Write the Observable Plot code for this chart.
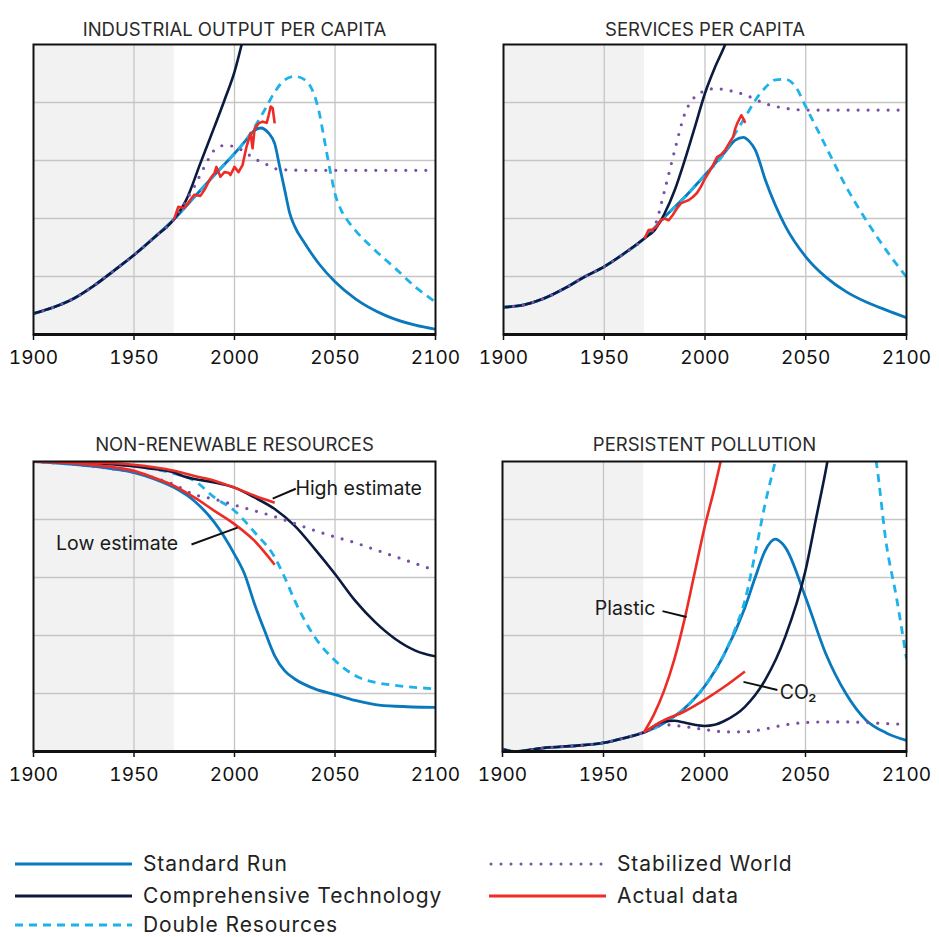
<!DOCTYPE html>
<html><head><meta charset="utf-8">
<script src="https://cdn.jsdelivr.net/npm/d3@7"></script>
<script src="https://cdn.jsdelivr.net/npm/@observablehq/plot@0.6"></script>
<style>
body{margin:0;background:#fff;font-family:Inter,"Open Sans",sans-serif;}
#root{position:relative;width:939px;height:937px;overflow:hidden;}
.panel{position:absolute;}
.leg{position:absolute;display:flex;align-items:center;height:24px;font-size:21px;letter-spacing:0.9px;color:#222;white-space:nowrap;line-height:24px;}
.leg svg{margin-right:11px;}
</style></head>
<body><div id="root"></div>
<script>
// ---------- shared ----------
const xTicks = [1900, 1950, 2000, 2050, 2100];
const xGrid = [1950, 2000, 2050];
const yGrid = [1, 2, 3, 4];
const historicalSpan = [1900, 1970];

// ---------- Industrial output per capita ----------
const indStandard = [[1900,0.36],[1910,0.47],[1920,0.62],[1930,0.84],[1940,1.10],[1950,1.37],[1960,1.67],[1970,1.99],[1980,2.37],[1990,2.75],[2000,3.12],[2005,3.32],[2010,3.52],[2013,3.56],[2017,3.47],[2020,3.29],[2022.5,2.89],[2025,2.49],[2027.5,2.09],[2030,1.86],[2035,1.57],[2042,1.22],[2050,0.91],[2060,0.62],[2075,0.33],[2090,0.16],[2100,0.09]];
const indCompTech = [[1900,0.36],[1910,0.47],[1920,0.62],[1930,0.84],[1940,1.10],[1950,1.37],[1960,1.67],[1970,1.99],[1976,2.32],[1983,2.95],[1990,3.58],[1995,4.04],[2000,4.53],[2005,5.2],[2010,5.9]];
const indDouble = [[1900,0.36],[1910,0.47],[1920,0.62],[1930,0.84],[1940,1.10],[1950,1.37],[1960,1.67],[1970,1.99],[1980,2.37],[1990,2.75],[2000,3.12],[2005,3.32],[2010,3.58],[2015,3.87],[2020,4.18],[2025,4.39],[2030,4.45],[2035,4.39],[2040,4.10],[2042,3.85],[2045,3.30],[2048,2.75],[2050,2.43],[2053,2.15],[2057,1.93],[2060,1.80],[2070,1.45],[2080,1.14],[2090,0.82],[2100,0.56]];
const indStabilized = [[1900,0.36],[1910,0.47],[1920,0.62],[1930,0.84],[1940,1.10],[1950,1.37],[1960,1.67],[1970,1.99],[1975,2.26],[1980,2.55],[1985,2.89],[1990,3.18],[1995,3.26],[2000,3.24],[2005,3.15],[2010,3.03],[2015,2.95],[2020,2.86],[2025,2.84],[2040,2.83],[2100,2.83]];
const indActual = [[1970,1.99],[1972,2.2],[1975,2.18],[1978,2.32],[1980,2.41],[1983,2.39],[1985,2.49],[1988,2.69],[1990,2.78],[1991,2.89],[1993,2.72],[1995,2.80],[1997,2.79],[1998,2.75],[2000,2.89],[2002,2.80],[2004,2.92],[2006,3.24],[2008,3.47],[2009,3.21],[2010,3.55],[2012,3.64],[2014,3.67],[2016,3.65],[2017,3.78],[2018,3.93],[2019,3.90],[2020,3.64]];

// ---------- Services per capita ----------
const svcStandard = [[1900,0.47],[1910,0.51],[1920,0.62],[1930,0.79],[1940,0.99],[1950,1.17],[1960,1.40],[1970,1.66],[1980,2.03],[1990,2.37],[2000,2.75],[2010,3.15],[2015,3.35],[2019,3.40],[2022,3.33],[2025,3.18],[2030,2.66],[2040,1.86],[2050,1.34],[2060,0.99],[2070,0.74],[2080,0.56],[2090,0.42],[2100,0.29]];
const svcCompTech = [[1900,0.47],[1910,0.51],[1920,0.62],[1930,0.79],[1940,0.99],[1950,1.17],[1960,1.40],[1970,1.66],[1975,1.80],[1980,2.09],[1985,2.49],[1990,3.01],[1995,3.58],[2000,4.16],[2005,4.61],[2010,5.0],[2015,5.5]];
const svcDouble = [[1900,0.47],[1910,0.51],[1920,0.62],[1930,0.79],[1940,0.99],[1950,1.17],[1960,1.40],[1970,1.66],[1980,2.03],[1990,2.37],[2000,2.75],[2010,3.15],[2015,3.47],[2020,3.75],[2025,4.04],[2030,4.26],[2035,4.39],[2040,4.40],[2045,4.27],[2050,3.93],[2060,3.24],[2070,2.55],[2080,1.97],[2090,1.45],[2100,0.99]];
const svcStabilized = [[1900,0.47],[1910,0.51],[1920,0.62],[1930,0.79],[1940,0.99],[1950,1.17],[1960,1.40],[1970,1.66],[1975,1.86],[1980,2.49],[1985,3.18],[1990,3.81],[1995,4.10],[2000,4.20],[2005,4.24],[2010,4.22],[2020,4.13],[2030,3.98],[2040,3.90],[2050,3.87],[2100,3.87]];
const svcActual = [[1970,1.66],[1972,1.80],[1974,1.81],[1976,1.86],[1978,1.97],[1980,2.0],[1982,1.97],[1984,2.06],[1986,2.17],[1988,2.26],[1990,2.29],[1992,2.32],[1994,2.37],[1996,2.44],[1998,2.55],[2000,2.69],[2002,2.80],[2004,2.92],[2006,3.06],[2008,3.10],[2010,3.18],[2012,3.30],[2014,3.41],[2015,3.55],[2016,3.64],[2018,3.78],[2019,3.72],[2020,3.65]];

// ---------- Non-renewable resources ----------
const resStandard = [[1900,5.0],[1920,4.95],[1940,4.87],[1950,4.81],[1960,4.70],[1970,4.55],[1980,4.32],[1990,3.95],[2000,3.40],[2005,3.06],[2010,2.54],[2015,2.08],[2020,1.65],[2025,1.39],[2030,1.25],[2040,1.08],[2050,0.98],[2060,0.88],[2070,0.81],[2080,0.78],[2100,0.76]];
const resCompTech = [[1900,5.0],[1940,4.95],[1960,4.87],[1970,4.81],[1975,4.74],[1980,4.70],[1990,4.64],[2000,4.55],[2010,4.38],[2020,4.18],[2030,3.89],[2040,3.49],[2050,3.06],[2060,2.60],[2070,2.23],[2080,1.94],[2090,1.74],[2100,1.64]];
const resDouble = [[1900,5.0],[1940,4.95],[1960,4.87],[1970,4.79],[1980,4.67],[1990,4.38],[2000,4.15],[2010,3.78],[2020,3.35],[2025,3.0],[2030,2.60],[2040,1.97],[2050,1.57],[2060,1.31],[2070,1.19],[2080,1.14],[2100,1.08]];
const resStabilized = [[1900,5.0],[1920,4.95],[1940,4.87],[1950,4.81],[1960,4.72],[1970,4.60],[1980,4.43],[1990,4.35],[2000,4.25],[2010,4.15],[2020,4.05],[2030,3.93],[2040,3.81],[2050,3.70],[2060,3.60],[2070,3.48],[2080,3.36],[2090,3.24],[2100,3.12]];
const resActualHigh = [[1900,5.0],[1940,4.97],[1960,4.90],[1970,4.84],[1980,4.75],[1990,4.67],[2000,4.55],[2010,4.41],[2020,4.29]];
const resActualLow = [[1900,5.0],[1920,4.97],[1940,4.90],[1950,4.84],[1960,4.72],[1970,4.58],[1980,4.38],[1990,4.15],[2000,3.92],[2010,3.63],[2020,3.22]];
const resNotes = [
  {text: "High estimate", tx: 2030.3, ty: 4.53, anchor: "start", x1: 2019, y1: 4.36, x2: 2030.5, y2: 4.53},
  {text: "Low estimate", tx: 1972, ty: 3.59, anchor: "end", x1: 1978.6, y1: 3.57, x2: 2001.5, y2: 3.86}
];

// ---------- Persistent pollution ----------
const polStandard = [[1900,0.04],[1906,0.0],[1920,0.06],[1940,0.11],[1950,0.15],[1960,0.23],[1970,0.33],[1980,0.49],[1990,0.74],[2000,1.12],[2010,1.69],[2020,2.48],[2025,2.99],[2030,3.46],[2035,3.66],[2040,3.52],[2050,2.66],[2060,1.69],[2070,1.0],[2080,0.54],[2090,0.32],[2100,0.19]];
const polCompTech = [[1900,0.04],[1906,0.0],[1920,0.06],[1940,0.11],[1950,0.15],[1960,0.23],[1970,0.33],[1980,0.52],[1985,0.53],[1990,0.50],[1995,0.46],[2000,0.44],[2005,0.46],[2010,0.53],[2020,0.77],[2030,1.23],[2040,1.98],[2050,3.12],[2055,3.98],[2060,4.84],[2065,5.8]];
const polDouble = [[1900,0.04],[1906,0.0],[1920,0.06],[1940,0.11],[1950,0.15],[1960,0.23],[1970,0.33],[1980,0.49],[1990,0.74],[2000,1.12],[2010,1.69],[2015,2.1],[2020,2.6],[2025,3.40],[2030,4.27],[2035,5.0],[2040,5.8],[2060,6.5],[2080,5.8],[2085,5.0],[2090,3.58],[2095,2.66],[2100,1.60]];
const polStabilized = [[1900,0.04],[1906,0.0],[1920,0.06],[1940,0.11],[1950,0.15],[1960,0.23],[1970,0.33],[1980,0.46],[1990,0.43],[2000,0.38],[2010,0.34],[2020,0.34],[2030,0.39],[2040,0.46],[2050,0.50],[2060,0.51],[2070,0.51],[2080,0.50],[2090,0.48],[2100,0.47]];
const polPlastic = [[1970,0.33],[1975,0.64],[1980,1.05],[1985,1.58],[1990,2.26],[1995,3.06],[2000,3.86],[2005,4.55],[2008,5.0],[2012,5.6]];
const polCO2 = [[1970,0.33],[1980,0.54],[1990,0.69],[2000,0.89],[2010,1.12],[2020,1.38]];
const polNotes = [
  {text: "Plastic", tx: 1975.7, ty: 2.46, anchor: "end", x1: 1979.2, y1: 2.42, x2: 1991.1, y2: 2.32},
  {text: "CO₂", tx: 2037.2, ty: 1.01, anchor: "start", x1: 2019.3, y1: 1.20, x2: 2036.1, y2: 1.06}
];

// ---------- styles ----------
const styles = {
  standard:   {label: "Standard Run", stroke: "#0a78bd", strokeWidth: 2.8},
  comptech:   {label: "Comprehensive Technology", stroke: "#0b1a3f", strokeWidth: 2.6},
  double:     {label: "Double Resources", stroke: "#1db2ea", strokeWidth: 2.8, dash: "8 6"},
  stabilized: {label: "Stabilized World", stroke: "#7a4fa6", strokeWidth: 3.2, dash: "0 10", cap: "round"},
  actual:     {label: "Actual data", stroke: "#ee2c26", strokeWidth: 2.6}
};

function lineMark(data, key, curve) {
  const s = styles[key];
  return Plot.line(data, {x: d => d[0], y: d => d[1], stroke: s.stroke, strokeWidth: s.strokeWidth,
    strokeDasharray: s.dash, strokeLinecap: s.cap || "butt", strokeLinejoin: "round",
    curve: curve || "monotone-x", clip: true});
}

function panel(cfg) {
  const marks = [
    Plot.rect([historicalSpan], {x1: d => d[0], x2: d => d[1], y1: 0, y2: 5, fill: "#f2f2f2"}),
    Plot.ruleX(xGrid, {stroke: "#c5c5c5", strokeWidth: 1.3}),
    Plot.ruleY(yGrid, {stroke: "#c5c5c5", strokeWidth: 1.3}),
    ...cfg.lines.map(([data, key, curve]) => lineMark(data, key, curve))
  ];
  if (cfg.notes) {
    marks.push(Plot.link(cfg.notes, {x1: "x1", y1: "y1", x2: "x2", y2: "y2", stroke: "#111", strokeWidth: 2}));
    for (const anchor of ["start", "end"]) {
      marks.push(Plot.text(cfg.notes.filter(d => d.anchor === anchor),
        {x: "tx", y: "ty", text: "text", textAnchor: anchor, fontSize: 19.5, letterSpacing: "0.5px", fill: "#1a1a1a"}));
    }
  }
  marks.push(
    Plot.frame({stroke: "#111", strokeWidth: 2}),
    Plot.ruleY([0], {stroke: "#111", strokeWidth: 3}),
    Plot.axisX(xTicks, {tickSize: 6, tickPadding: 10, tickFormat: d => String(d), fontSize: 19, stroke: "#111", strokeWidth: 1.5}),
    Plot.text([cfg.title], {frameAnchor: "top", dy: cfg.titleDy, fontSize: 18.5, fill: "#2a2a2a", letterSpacing: "1px"})
  );
  return Plot.plot({
    width: cfg.width, height: cfg.height,
    marginLeft: cfg.ml, marginRight: cfg.mr, marginTop: cfg.mt, marginBottom: cfg.mb,
    x: {domain: [1900, 2100]},
    y: {domain: [0, 5], axis: null},
    style: {fontFamily: "Inter, 'Open Sans', sans-serif", color: "#111", background: "transparent", overflow: "visible"},
    marks
  });
}

const root = document.getElementById("root");
function place(node, left, top) {
  const d = document.createElement("div");
  d.className = "panel"; d.style.left = left + "px"; d.style.top = top + "px";
  d.appendChild(node); root.appendChild(d);
}

place(panel({title: "INDUSTRIAL OUTPUT PER CAPITA", width: 470, height: 400, ml: 33, mr: 35, mt: 44, mb: 66, titleDy: -22,
  lines: [[indStandard, "standard"], [indDouble, "double"], [indCompTech, "comptech"], [indStabilized, "stabilized"], [indActual, "actual", "linear"]]}), 0, 0);
place(panel({title: "SERVICES PER CAPITA", width: 469, height: 400, ml: 33, mr: 33, mt: 44, mb: 66, titleDy: -22,
  lines: [[svcStandard, "standard"], [svcDouble, "double"], [svcCompTech, "comptech"], [svcStabilized, "stabilized"], [svcActual, "actual", "linear"]]}), 470, 0);
place(panel({title: "NON-RENEWABLE RESOURCES", width: 470, height: 400, ml: 33, mr: 35, mt: 61, mb: 49, titleDy: -24, notes: resNotes,
  lines: [[resStandard, "standard"], [resDouble, "double"], [resCompTech, "comptech"], [resStabilized, "stabilized"], [resActualHigh, "actual"], [resActualLow, "actual"]]}), 0, 400);
place(panel({title: "PERSISTENT POLLUTION", width: 469, height: 400, ml: 32, mr: 33, mt: 61, mb: 49, titleDy: -24, notes: polNotes,
  lines: [[polStandard, "standard"], [polDouble, "double"], [polCompTech, "comptech"], [polStabilized, "stabilized"], [polPlastic, "actual"], [polCO2, "actual"]]}), 470, 400);

// ---------- legend ----------
const legendOrder = [["standard", 15, 864], ["comptech", 15, 896], ["double", 15, 925], ["stabilized", 489, 864], ["actual", 489, 896]];
legendOrder.forEach(([key, x, y]) => {
  const s = styles[key];
  const item = document.createElement("div");
  item.className = "leg";
  item.style.left = x + "px"; item.style.top = (y - 12) + "px";
  const ns = "http://www.w3.org/2000/svg";
  const svg = document.createElementNS(ns, "svg");
  svg.setAttribute("width", 117); svg.setAttribute("height", 10);
  const ln = document.createElementNS(ns, "line");
  ln.setAttribute("x1", s.cap ? 2 : 0); ln.setAttribute("x2", 117); ln.setAttribute("y1", 5); ln.setAttribute("y2", 5);
  ln.setAttribute("stroke", s.stroke); ln.setAttribute("stroke-width", 3);
  if (s.dash) ln.setAttribute("stroke-dasharray", s.dash);
  if (s.cap) ln.setAttribute("stroke-linecap", s.cap);
  svg.appendChild(ln);
  item.appendChild(svg);
  const t = document.createElement("span"); t.textContent = s.label;
  item.appendChild(t);
  root.appendChild(item);
});
</script></body></html>
